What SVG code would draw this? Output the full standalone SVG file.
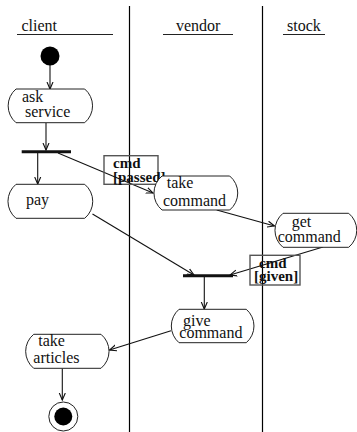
<svg xmlns="http://www.w3.org/2000/svg" width="357" height="432" viewBox="0 0 357 432">
<style>
text{font-family:'Liberation Serif','DejaVu Serif',serif;font-size:16px;fill:#111}
.b{font-weight:bold;font-size:15px}
.node{fill:#fff;stroke:#222;stroke-width:1}
.lane{stroke:#000;stroke-width:1.2}
.ul{stroke:#222;stroke-width:1}
.bar{stroke:#111;stroke-width:3}
.c{fill:none;stroke:#111;stroke-width:1.1;marker-end:url(#a)}
.g{fill:none;stroke:#555;stroke-width:1.4}
</style>
<defs>
<marker id="a" markerUnits="userSpaceOnUse" markerWidth="10" markerHeight="10" refX="7" refY="4" orient="auto">
<path d="M0,1 L7,4 L0,7" fill="none" stroke="#111" stroke-width="1.1"/>
</marker>
</defs>
<g id="lanes">
<line class="lane" x1="129.5" y1="6" x2="129.5" y2="432"/>
<line class="lane" x1="262.5" y1="6" x2="262.5" y2="432"/>
<text x="21.5" y="31">client</text>
<line class="ul" x1="17" y1="34.5" x2="113" y2="34.5"/>
<text x="176" y="31">vendor</text>
<line class="ul" x1="163" y1="34.5" x2="233" y2="34.5"/>
<text x="287" y="31">stock</text>
<line class="ul" x1="283" y1="34.5" x2="325" y2="34.5"/>
</g>
<g id="connectors">
<line class="c" x1="50" y1="65" x2="50" y2="89"/>
<line class="c" x1="46" y1="123" x2="46" y2="150"/>
<line class="c" x1="37.7" y1="153" x2="37.7" y2="184"/>
<line class="c" x1="58" y1="153" x2="153" y2="193"/>
<line class="c" x1="216.7" y1="210" x2="274.5" y2="226"/>
<line class="c" x1="323" y1="247" x2="230" y2="275"/>
<line class="c" x1="92.5" y1="214" x2="194" y2="275"/>
<line class="c" x1="204.3" y1="277" x2="204.3" y2="309"/>
<line class="c" x1="171" y1="330.7" x2="109.5" y2="350"/>
<line class="c" x1="62.3" y1="368.5" x2="62.3" y2="400"/>
</g>
<g id="start"><circle cx="50" cy="56" r="9.5" fill="#000"/></g>
<g id="ask_service">
<path class="node" d="M16,89 H84.7 A22,22 0 0 1 84.7,122.7 H16 A22,22 0 0 1 16,89 Z"/>
<text x="22" y="101.7">ask</text>
<text x="25" y="117">service</text>
</g>
<g id="fork"><line class="bar" x1="21.7" y1="151.7" x2="71" y2="151.7"/></g>
<g id="pay">
<path class="node" d="M16,184.3 H84.7 A22,22 0 0 1 84.7,218.3 H16 A22,22 0 0 1 16,184.3 Z"/>
<text x="26" y="205">pay</text>
</g>
<g id="cmd_passed">
<rect class="g" x="104" y="155.7" width="54" height="28.6"/>
<text class="b" x="113" y="167.7">cmd</text>
<text class="b" x="113" y="181.7">[passed]</text>
</g>
<g id="take_command">
<path class="node" d="M162,176 H229.7 A22,22 0 0 1 229.7,210 H162 A22,22 0 0 1 162,176 Z"/>
<text x="166.7" y="188.3">take</text>
<text x="163" y="206">command</text>
</g>
<g id="get_command">
<path class="node" d="M283,213.3 H348.7 A22,22 0 0 1 348.7,247.3 H283 A22,22 0 0 1 283,213.3 Z"/>
<text x="291.7" y="226.7">get</text>
<text x="277.7" y="242.3">command</text>
</g>
<g id="cmd_given">
<rect class="g" x="250" y="255.3" width="50" height="29.7"/>
<text class="b" x="259" y="267.7">cmd</text>
<text class="b" x="254" y="281">[given]</text>
</g>
<g id="join"><line class="bar" x1="183" y1="275.7" x2="233" y2="275.7"/></g>
<g id="give_command">
<path class="node" d="M179,309.3 H246.3 A22,22 0 0 1 246.3,342.7 H179 A22,22 0 0 1 179,309.3 Z"/>
<text x="183" y="325.7">give</text>
<text x="179.3" y="338.3">command</text>
</g>
<g id="take_articles">
<path class="node" d="M33.7,334.3 H101 A22,22 0 0 1 101,368.3 H33.7 A22,22 0 0 1 33.7,334.3 Z"/>
<text x="38.3" y="346">take</text>
<text x="33.3" y="362.7">articles</text>
</g>
<g id="end">
<circle cx="63.3" cy="416.5" r="14.5" fill="#fff" stroke="#222" stroke-width="1"/>
<circle cx="63.3" cy="416.5" r="9" fill="#000"/>
</g>
</svg>
